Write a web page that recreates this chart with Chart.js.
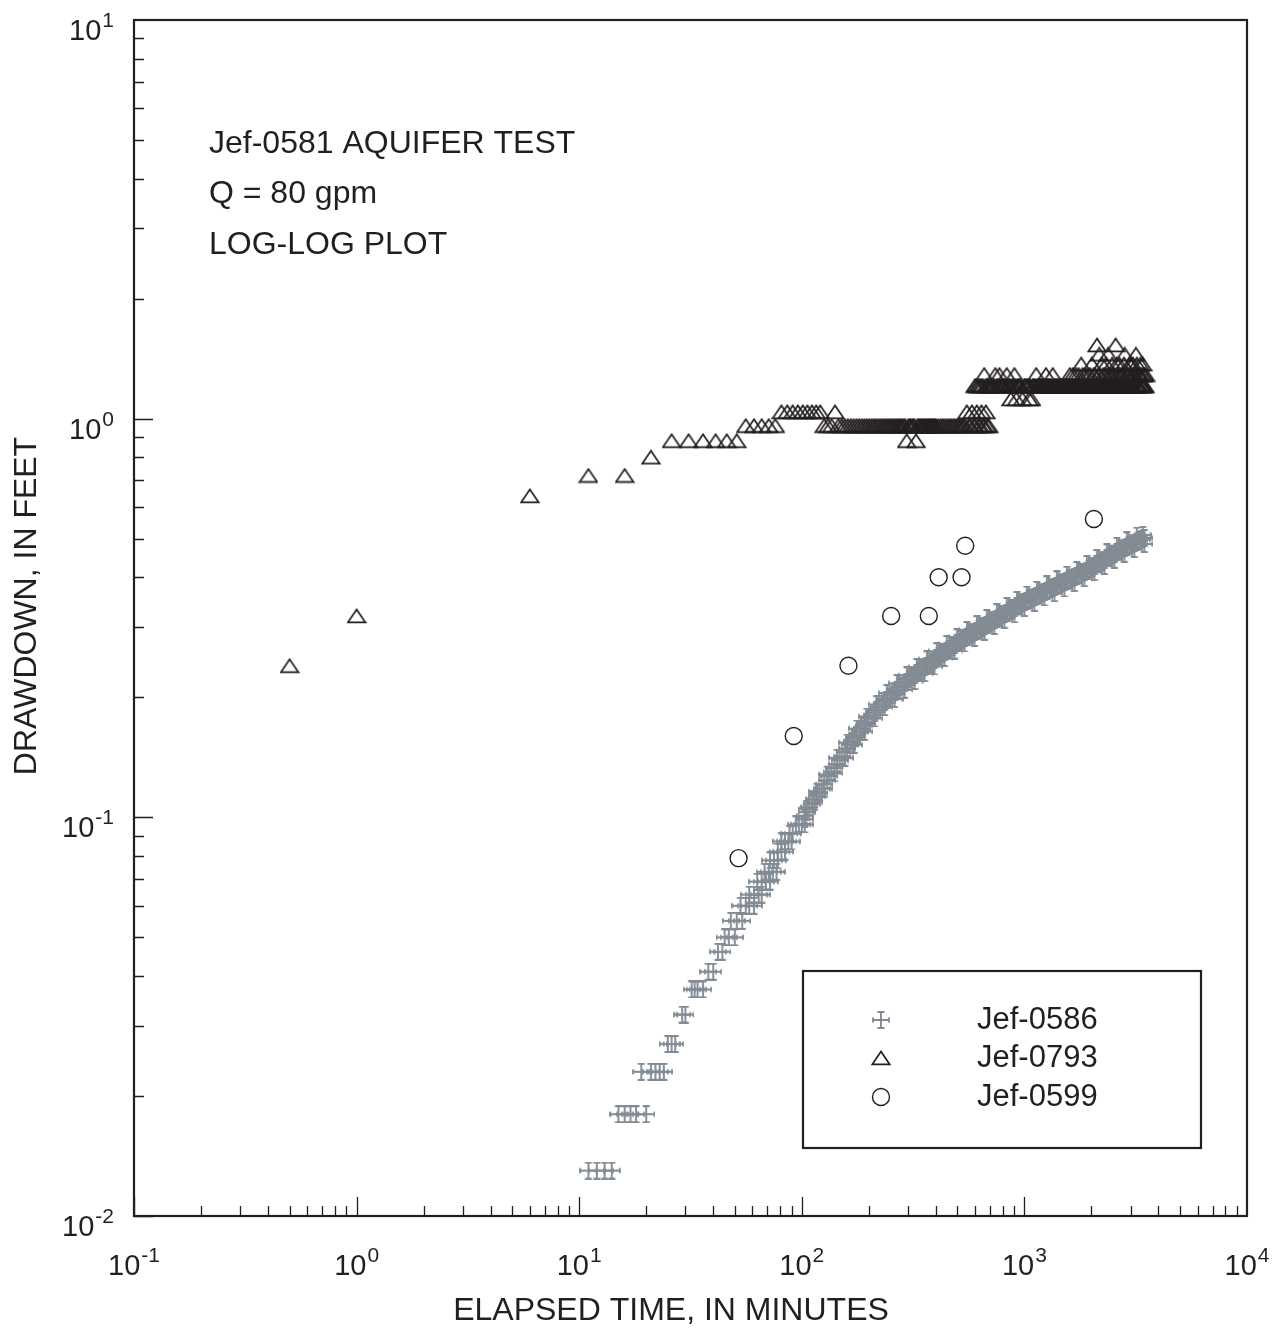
<!DOCTYPE html>
<html>
<head>
<meta charset="utf-8">
<script src="https://cdn.jsdelivr.net/npm/chart.js@4.4.1/dist/chart.umd.min.js"></script>
<style>
html, body { margin: 0; padding: 0; background: #fff; }
</style>
</head>
<body>
<canvas id="chart" width="1285" height="1331"></canvas>
<script>
// ====================
// DATA
// ====================
const xTickExp = ["-1", "0", "1", "2", "3", "4"];
const yTickExp = ["-2", "-1", "0", "1"];
const noteLines = ["Jef-0581 AQUIFER TEST", "Q = 80 gpm", "LOG-LOG PLOT"];

// Jef-0586, early part: drawdown rows and the times plotted on each row
const levels0586 = [0.013, 0.018, 0.023, 0.027, 0.032, 0.037, 0.041, 0.046, 0.050, 0.055,
                    0.060, 0.064, 0.069, 0.073, 0.078, 0.082, 0.087, 0.091, 0.096];
const times0586 = [
    [11, 12, 13, 14], [15, 16, 17, 18, 20], [19, 21, 22, 23, 24], [25, 26, 27], [29, 30],
    [32, 33, 34, 36], [38, 40], [42, 44], [45, 47, 50], [48, 51, 54],
    [53, 56, 58, 61], [58, 61, 64, 66], [63, 66, 69, 72], [68, 71, 74, 77], [72, 75, 78],
    [78, 81, 84], [81, 84, 87, 90], [88, 91], [94, 97, 100, 103]
];
// Jef-0586, dense band after 100 minutes (middle of the band)
const bandTime0586 = [
    103, 105, 108, 111, 114, 117, 120, 123, 126, 130,
    133, 136, 140, 144, 148, 152, 156, 160, 164, 168,
    172, 177, 182, 186, 191, 196, 201, 207, 212, 217,
    223, 229, 235, 241, 248, 254, 261, 268, 275, 282,
    289, 297, 305, 313, 321, 329, 338, 347, 356, 365,
    375, 384, 394, 404, 415, 426, 437, 448, 460, 472,
    485, 498, 511, 524, 538, 552, 566, 581, 596, 612,
    628, 644, 661, 678, 696, 714, 733, 752, 772, 792,
    813, 834, 856, 879, 902, 926, 950, 975, 1000, 1026,
    1053, 1081, 1109, 1138, 1168, 1199, 1230, 1262, 1295, 1329,
    1364, 1400, 1436, 1474, 1512, 1552, 1592, 1634, 1677, 1721,
    1766, 1812, 1859, 1908, 1958, 2010, 2062, 2116, 2171, 2228,
    2286, 2347, 2408, 2471, 2535, 2602, 2670, 2740, 2811, 2885,
    2960, 3038, 3117, 3198, 3281, 3368, 3456, 3400
];
const bandDraw0586 = [
    0.101, 0.103, 0.106, 0.108, 0.111, 0.113, 0.115, 0.118, 0.121, 0.124,
    0.127, 0.130, 0.133, 0.136, 0.139, 0.142, 0.146, 0.149, 0.152, 0.155,
    0.158, 0.161, 0.164, 0.167, 0.170, 0.173, 0.177, 0.180, 0.183, 0.186,
    0.189, 0.192, 0.195, 0.197, 0.200, 0.203, 0.206, 0.209, 0.212, 0.214,
    0.217, 0.219, 0.222, 0.225, 0.228, 0.230, 0.233, 0.235, 0.238, 0.240,
    0.243, 0.245, 0.248, 0.251, 0.254, 0.257, 0.260, 0.262, 0.265, 0.268,
    0.271, 0.273, 0.276, 0.279, 0.282, 0.284, 0.287, 0.289, 0.292, 0.294,
    0.297, 0.299, 0.302, 0.304, 0.307, 0.310, 0.313, 0.315, 0.318, 0.321,
    0.324, 0.326, 0.329, 0.332, 0.335, 0.338, 0.341, 0.344, 0.347, 0.349,
    0.352, 0.354, 0.357, 0.359, 0.362, 0.365, 0.368, 0.370, 0.373, 0.375,
    0.378, 0.381, 0.384, 0.386, 0.389, 0.392, 0.395, 0.398, 0.401, 0.403,
    0.406, 0.409, 0.412, 0.416, 0.420, 0.423, 0.427, 0.431, 0.435, 0.438,
    0.442, 0.446, 0.450, 0.454, 0.458, 0.462, 0.466, 0.470, 0.474, 0.477,
    0.481, 0.484, 0.488, 0.491, 0.495, 0.498, 0.502, 0.511
];
// upper and lower edges of the same band
const bandHighTime0586 = [
    105, 117, 130, 144, 160, 177, 196, 217, 241, 268, 297, 329, 365, 404, 448, 498, 552,
    612, 678, 752, 834, 926, 1026, 1138, 1262, 1400, 1552, 1721, 1908, 2116, 2347, 2602, 2885, 3198
];
const bandHighDraw0586 = [
    0.105, 0.116, 0.128, 0.141, 0.154, 0.167, 0.179, 0.192, 0.205, 0.217, 0.227, 0.238, 0.249,
    0.261, 0.272, 0.283, 0.295, 0.305, 0.316, 0.327, 0.339, 0.351, 0.362, 0.372, 0.384, 0.395,
    0.406, 0.417, 0.432, 0.447, 0.462, 0.480, 0.495, 0.509
];
const bandLowTime0586 = [
    103, 114, 126, 140, 156, 172, 191, 212, 235, 261, 289, 321, 356, 394, 437, 485, 538, 596,
    661, 733, 813, 902, 1000, 1109, 1230, 1364, 1512, 1677, 1859, 2062, 2286, 2535, 2811, 3117, 3456
];
const bandLowDraw0586 = [
    0.099, 0.109, 0.118, 0.129, 0.141, 0.152, 0.164, 0.177, 0.189, 0.198, 0.209, 0.220, 0.230,
    0.239, 0.251, 0.262, 0.273, 0.282, 0.292, 0.302, 0.313, 0.323, 0.335, 0.345, 0.356, 0.365,
    0.375, 0.387, 0.398, 0.412, 0.427, 0.443, 0.458, 0.471, 0.485
];

// Jef-0793: drawdown rows and the times plotted on each row
const levels0793 = [0.24, 0.32, 0.64, 0.72, 0.80, 0.88, 0.96, 1.04, 1.12, 1.21, 1.29, 1.37, 1.45, 1.53];
const times0793 = [
    [0.5],
    [1],
    [6],
    [11, 16],
    [21],
    [26, 31, 36, 41, 46, 51, 296, 326],
    [56, 61, 66, 71, 76, 126, 131, 136,
     146, 151, 156, 161, 166, 171, 176, 181, 186, 191, 196, 201, 206, 211, 216, 221, 226, 231,
     236, 241, 246, 251, 256, 261, 266, 271, 276, 281, 286, 291, 301, 306, 311, 316, 321, 331,
     336, 341, 346, 351, 356, 361, 366, 371, 376, 381, 386, 391, 396, 401, 411, 421, 431, 441,
     451, 461, 471, 481, 491, 501, 511, 521, 531, 541, 561, 571, 591, 601, 621, 631, 651, 661,
     681, 691],
    [81, 86, 91, 96, 101, 106, 111, 116, 121, 141, 551, 581, 611, 641, 671],
    [870, 920, 980, 1050, 1075],
    [600, 610, 620, 630, 640, 650, 670, 680, 690, 700, 710, 720, 730, 750, 760, 780, 790, 800,
     810, 820, 840, 850, 860, 880, 890, 910, 930, 940, 950, 960, 1000, 1010, 1025, 1040, 1060,
     1090, 1100, 1115, 1140, 1150, 1165, 1175, 1190, 1200, 1215, 1225, 1240, 1262, 1275, 1290,
     1300, 1320, 1360, 1375, 1390, 1405, 1420, 1435, 1450, 1465, 1480, 1495, 1510, 1525, 1540,
     1555, 1570, 1585, 1610, 1625, 1640, 1660, 1675, 1690, 1710, 1725, 1740, 1760, 1775, 1790,
     1810, 1835, 1850, 1865, 1890, 1900, 1915, 1940, 1950, 1965, 1990, 2020, 2040, 2060, 2100,
     2130, 2160, 2200, 2210, 2250, 2280, 2290, 2310, 2340, 2390, 2410, 2430, 2460, 2490, 2520,
     2550, 2580, 2620, 2650, 2690, 2720, 2750, 2780, 2830, 2850, 2870, 2890, 2950, 2990, 3020,
     3050, 3080, 3150, 3180, 3220, 3250, 3280, 3350, 3370, 3380, 3430, 3450, 3470],
    [660, 740, 772, 833, 902, 1130, 1250, 1340, 1600, 1650, 1700, 1750, 1825, 1875, 1925, 1975,
     2050, 2070, 2150, 2180, 2260, 2300, 2360, 2420, 2440, 2500, 2540, 2610, 2640, 2700, 2740,
     2770, 2860, 2900, 2920, 2980, 3060, 3100, 3120, 3160, 3240, 3270, 3300, 3360, 3420, 3460, 3500],
    [1800, 2010, 2230, 2330, 2480, 2600, 2670, 2800, 2970, 3000, 3070, 3200, 3320, 3400],
    [2170, 2380, 2820, 3170],
    [2120, 2570]
];

// Jef-0599
const time0599 = [52, 92, 162, 252, 372, 412, 522, 542, 2052];
const draw0599 = [0.079, 0.16, 0.24, 0.32, 0.32, 0.40, 0.40, 0.48, 0.56];

// ====================
// STYLE
// ====================
const INK = "#231f20";
const GREY = "#838b94";
const FONT = '"Liberation Sans", Arial, sans-serif';

function makeCross() {
    const c = document.createElement("canvas");
    c.width = 18; c.height = 18;
    const g = c.getContext("2d");
    g.strokeStyle = GREY;
    g.lineWidth = 1.9;
    g.beginPath();
    g.moveTo(1, 9); g.lineTo(17, 9);
    g.moveTo(9, 1); g.lineTo(9, 17);
    g.moveTo(1, 6.5); g.lineTo(1, 11.5);
    g.moveTo(17, 6.5); g.lineTo(17, 11.5);
    g.moveTo(5.5, 1); g.lineTo(12.5, 1);
    g.moveTo(5.5, 17); g.lineTo(12.5, 17);
    g.stroke();
    return c;
}

function makeTriangle() {
    const c = document.createElement("canvas");
    c.width = 20; c.height = 16;
    const g = c.getContext("2d");
    g.strokeStyle = INK;
    g.lineWidth = 1.7;
    g.beginPath();
    g.moveTo(10, 1.6);
    g.lineTo(18.8, 14.4);
    g.lineTo(1.2, 14.4);
    g.closePath();
    g.stroke();
    return c;
}

const crossImg = makeCross();
const triImg = makeTriangle();

function rowsToPoints(levels, rows) {
    const out = [];
    levels.forEach((lv, i) => rows[i].forEach(t => out.push({ x: t, y: lv })));
    return out;
}

function pairs(ts, ds) {
    return ts.map((t, i) => ({ x: t, y: ds[i] }));
}

const data0586 = rowsToPoints(levels0586, times0586)
    .concat(pairs(bandTime0586, bandDraw0586))
    .concat(pairs(bandHighTime0586, bandHighDraw0586))
    .concat(pairs(bandLowTime0586, bandLowDraw0586));
const data0793 = rowsToPoints(levels0793, times0793);
const data0599 = pairs(time0599, draw0599);

function powLabel(ctx, exp, x, base, align) {
    ctx.font = "29px " + FONT;
    const w1 = ctx.measureText("10").width;
    ctx.font = "21px " + FONT;
    const w2 = ctx.measureText(exp).width;
    const total = w1 + 1 + w2;
    const x0 = align === "center" ? x - total / 2 : x - total;
    ctx.textAlign = "left";
    ctx.textBaseline = "alphabetic";
    ctx.font = "29px " + FONT;
    ctx.fillText("10", x0, base);
    ctx.font = "21px " + FONT;
    ctx.fillText(exp, x0 + w1 + 1, base - 13);
}

// frame, inward ticks, labels, notes and the legend box
const decor = {
    id: "decor",
    afterDraw(chart) {
        const { ctx, chartArea: a, scales } = chart;
        const xs = scales.x, ys = scales.y;
        ctx.save();

        ctx.strokeStyle = INK;
        ctx.lineWidth = 1.3;
        ctx.beginPath();
        for (let e = -1; e < 4; e++) {
            for (let k = 1; k < 10; k++) {
                const px = Math.round(xs.getPixelForValue(k * Math.pow(10, e))) + 0.5;
                const len = k === 1 ? 19 : 10;
                ctx.moveTo(px, a.bottom);
                ctx.lineTo(px, a.bottom - len);
            }
        }
        for (let e = -2; e < 1; e++) {
            for (let k = 1; k < 10; k++) {
                const py = Math.round(ys.getPixelForValue(k * Math.pow(10, e))) + 0.5;
                const len = k === 1 ? 19 : 10;
                ctx.moveTo(a.left, py);
                ctx.lineTo(a.left + len, py);
            }
        }
        ctx.stroke();

        ctx.lineWidth = 2.2;
        ctx.strokeRect(a.left, a.top, a.right - a.left, a.bottom - a.top);

        ctx.fillStyle = INK;
        xTickExp.forEach(ex => {
            const px = xs.getPixelForValue(Math.pow(10, Number(ex)));
            powLabel(ctx, ex, px, a.bottom + 59, "center");
        });
        yTickExp.forEach(ex => {
            const py = ys.getPixelForValue(Math.pow(10, Number(ex)));
            powLabel(ctx, ex, 114, py + 20, "right");
        });

        ctx.font = "32px " + FONT;
        ctx.textAlign = "center";
        ctx.textBaseline = "middle";
        ctx.fillText("ELAPSED TIME, IN MINUTES", 671, 1311);
        ctx.save();
        ctx.translate(27, 606);
        ctx.rotate(-Math.PI / 2);
        ctx.fillText("DRAWDOWN, IN FEET", 0, 0);
        ctx.restore();

        ctx.font = "32px " + FONT;
        ctx.textAlign = "left";
        noteLines.forEach((s, i) => ctx.fillText(s, 209, 144 + i * 50.5));

        // legend
        ctx.lineWidth = 2.2;
        ctx.strokeRect(803, 971, 398, 177);
        const rowsY = [1020, 1058, 1097];
        ctx.drawImage(crossImg, 881 - 9, rowsY[0] - 9);
        ctx.drawImage(triImg, 881 - 10, rowsY[1] - 8);
        ctx.lineWidth = 1.4;
        ctx.beginPath();
        ctx.arc(881, rowsY[2], 8.5, 0, Math.PI * 2);
        ctx.stroke();
        ctx.font = "31px " + FONT;
        chart.data.datasets.forEach((ds, i) => ctx.fillText(ds.label, 977, rowsY[i]));

        ctx.restore();
    }
};

new Chart(document.getElementById("chart"), {
    type: "scatter",
    data: {
        datasets: [
            {
                label: "Jef-0586",
                data: data0586,
                pointStyle: crossImg,
                pointRadius: 8,
                borderColor: GREY,
                backgroundColor: GREY
            },
            {
                label: "Jef-0793",
                data: data0793,
                pointStyle: triImg,
                pointRadius: 9,
                borderColor: INK,
                backgroundColor: INK
            },
            {
                label: "Jef-0599",
                data: data0599,
                pointStyle: "circle",
                pointRadius: 8.5,
                borderWidth: 1.4,
                borderColor: INK,
                backgroundColor: "rgba(0,0,0,0)"
            }
        ]
    },
    options: {
        responsive: false,
        animation: false,
        events: [],
        layout: {
            padding: { left: 134, top: 20, right: 38, bottom: 115 }
        },
        plugins: {
            legend: { display: false },
            tooltip: { enabled: false }
        },
        scales: {
            x: { type: "logarithmic", min: 0.1, max: 10000, display: false },
            y: { type: "logarithmic", min: 0.01, max: 10, display: false }
        }
    },
    plugins: [decor]
});
</script>
</body>
</html>
